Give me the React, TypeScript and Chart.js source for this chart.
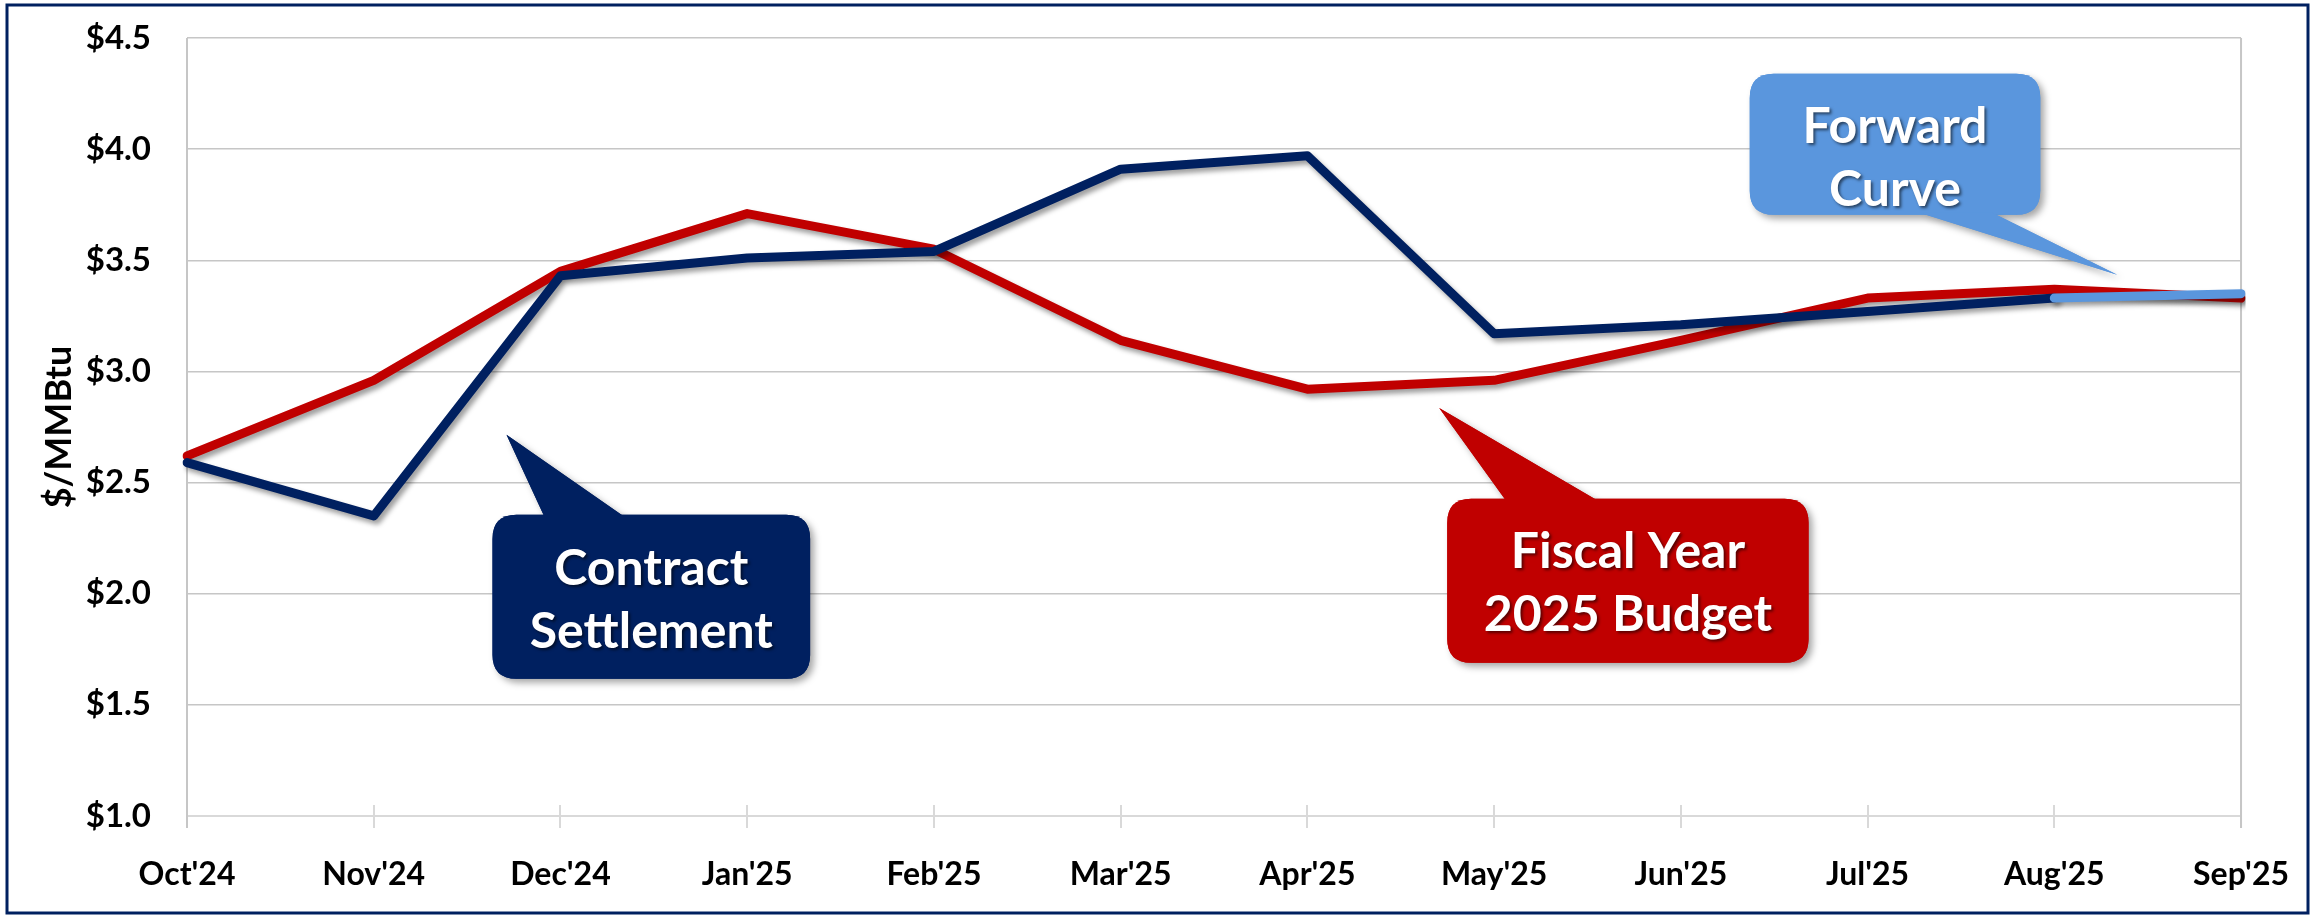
import React, { useEffect, useRef } from "react";
import { Chart, registerables } from "chart.js";

Chart.register(...registerables);

// ---------- data ----------
const categories = ["Oct'24", "Nov'24", "Dec'24", "Jan'25", "Feb'25", "Mar'25", "Apr'25", "May'25", "Jun'25", "Jul'25", "Aug'25", "Sep'25"];
const contractSettlement = [2.59, 2.35, 3.43, 3.51, 3.54, 3.91, 3.97, 3.17, 3.21, 3.27, 3.33, null];
const fiscalYearBudget = [2.62, 2.96, 3.45, 3.71, 3.55, 3.14, 2.92, 2.96, 3.14, 3.33, 3.37, 3.33];
const forwardCurve = [null, null, null, null, null, null, null, null, null, null, 3.33, 3.35];
const yMin = 1.0;
const yMax = 4.5;
const yStep = 0.5;
const yAxisTitle = "$/MMBtu";
const contractLabel = ["Contract", "Settlement"];
const budgetLabel = ["Fiscal Year", "2025 Budget"];
const forwardLabel = ["Forward", "Curve"];

// ---------- styles ----------
const NAVY = "#002060";
const RED = "#C00000";
const BLUE = "#5A96DD";
const FONT = "Lato, 'Open Sans', sans-serif";

// callouts anchored in data space: box [x0, yTop, x1, yBottom], pointer tip, pointer base x-range, text centre y
const callouts = [
  { lines: contractLabel, color: NAVY, box: [1.636, 2.355, 3.337, 1.617], tip: [1.711, 2.715], base: [1.914, 2.342], textY: 1.979 },
  { lines: budgetLabel, color: RED, box: [6.749, 2.427, 8.684, 1.689], tip: [6.706, 2.836], base: [7.064, 7.556], textY: 2.055 },
  { lines: forwardLabel, color: BLUE, box: [8.369, 4.339, 9.925, 3.705], tip: [10.337, 3.435], base: [9.278, 9.668], textY: 3.968 },
];

function roundRectPath(ctx: CanvasRenderingContext2D, x: number, y: number, w: number, h: number, r: number) {
  ctx.beginPath();
  ctx.moveTo(x + r, y);
  ctx.lineTo(x + w - r, y);
  ctx.quadraticCurveTo(x + w, y, x + w, y + r);
  ctx.lineTo(x + w, y + h - r);
  ctx.quadraticCurveTo(x + w, y + h, x + w - r, y + h);
  ctx.lineTo(x + r, y + h);
  ctx.quadraticCurveTo(x, y + h, x, y + h - r);
  ctx.lineTo(x, y + r);
  ctx.quadraticCurveTo(x, y, x + r, y);
  ctx.closePath();
}

const framePlugin = {
  id: "frame",
  beforeDatasetsDraw(chart: any) {
    const { ctx, chartArea, scales } = chart;
    const x = scales.x;
    ctx.save();
    ctx.strokeStyle = "#d9d9d9";
    ctx.lineWidth = 2;
    for (let i = 0; i < categories.length; i++) {
      const px = Math.round(x.getPixelForTick(i));
      ctx.beginPath();
      ctx.moveTo(px, chartArea.bottom - 11);
      ctx.lineTo(px, chartArea.bottom + 12);
      ctx.stroke();
    }
    ctx.strokeStyle = "#c6c6c6";
    ctx.lineWidth = 2;
    ctx.beginPath();
    ctx.moveTo(chartArea.left, chartArea.top);
    ctx.lineTo(chartArea.left, chartArea.bottom + 12);
    ctx.moveTo(chartArea.right, chartArea.top);
    ctx.lineTo(chartArea.right, chartArea.bottom + 12);
    ctx.stroke();
    ctx.restore();
  },
  beforeDatasetDraw(chart: any) {
    const ctx = chart.ctx;
    ctx.save();
    ctx.shadowColor = "rgba(0,0,0,0.38)";
    ctx.shadowBlur = 5;
    ctx.shadowOffsetX = 3;
    ctx.shadowOffsetY = 4;
  },
  afterDatasetDraw(chart: any) {
    chart.ctx.restore();
  },
  afterDraw(chart: any) {
    const { ctx, scales } = chart;
    const sx = (v: number) => scales.x.getPixelForValue(v);
    const sy = (v: number) => scales.y.getPixelForValue(v);
    ctx.save();
    for (const c of callouts) {
      const x0 = sx(c.box[0]);
      const x1 = sx(c.box[2]);
      const y0 = sy(c.box[1]);
      const y1 = sy(c.box[3]);
      const tx = sx(c.tip[0]);
      const ty = sy(c.tip[1]);
      const b0 = sx(c.base[0]);
      const b1 = sx(c.base[1]);
      const baseY = ty < y0 ? y0 + 2 : y1 - 2;
      const shape = () => {
        roundRectPath(ctx, x0, y0, x1 - x0, y1 - y0, 24);
        ctx.fill();
        ctx.beginPath();
        ctx.moveTo(b0, baseY);
        ctx.lineTo(tx, ty);
        ctx.lineTo(b1, baseY);
        ctx.closePath();
        ctx.fill();
      };
      ctx.save();
      ctx.shadowColor = "rgba(0,0,0,0.35)";
      ctx.shadowBlur = 7;
      ctx.shadowOffsetX = 4;
      ctx.shadowOffsetY = 4;
      ctx.fillStyle = c.color;
      shape();
      ctx.restore();
      ctx.fillStyle = c.color;
      shape();
      const fs = 50;
      ctx.save();
      ctx.font = `bold ${fs}px ${FONT}`;
      ctx.textAlign = "center";
      ctx.textBaseline = "alphabetic";
      ctx.shadowColor = "rgba(0,0,0,0.55)";
      ctx.shadowBlur = 3;
      ctx.shadowOffsetX = 2;
      ctx.shadowOffsetY = 2;
      ctx.fillStyle = "#ffffff";
      const cx = (x0 + x1) / 2;
      const cy = sy(c.textY);
      const gap = 63;
      c.lines.forEach((line, i) => {
        const lineCenter = cy + (i - (c.lines.length - 1) / 2) * gap;
        ctx.fillText(line, cx, lineCenter + fs * 0.36);
      });
      ctx.restore();
    }
    ctx.strokeStyle = NAVY;
    ctx.lineWidth = 3;
    ctx.strokeRect(7, 5, 2301, 908);
    ctx.restore();
  },
};

export default function App() {
  const canvasRef = useRef<HTMLCanvasElement | null>(null);

  useEffect(() => {
    const canvas = canvasRef.current;
    if (!canvas) return;
    const chart = new Chart(canvas, {
      type: "line",
      data: {
        labels: categories,
        datasets: [
          { label: "Forward Curve", data: forwardCurve, borderColor: BLUE, backgroundColor: BLUE },
          { label: "Contract Settlement", data: contractSettlement, borderColor: NAVY, backgroundColor: NAVY },
          { label: "Fiscal Year 2025 Budget", data: fiscalYearBudget, borderColor: RED, backgroundColor: RED },
        ].map((d) => ({
          ...d,
          borderWidth: 9,
          pointRadius: 0,
          pointHoverRadius: 0,
          tension: 0,
          fill: false,
          borderJoinStyle: "round" as const,
          borderCapStyle: "round" as const,
          spanGaps: false,
        })),
      },
      options: {
        responsive: false,
        animation: false,
        devicePixelRatio: 1,
        layout: { padding: { left: 0, top: 38, right: 78, bottom: 0 } },
        plugins: { legend: { display: false }, tooltip: { enabled: false } },
        scales: {
          x: {
            type: "category",
            offset: false,
            grid: { display: false },
            border: { display: false },
            ticks: {
              color: "#000000",
              font: { family: FONT, size: 32, weight: "bold" },
              padding: 31,
              maxRotation: 0,
              autoSkip: false,
            },
            afterFit: (scale: any) => {
              scale.height = 102;
            },
          },
          y: {
            min: yMin,
            max: yMax,
            grid: {
              drawTicks: false,
              color: (ctx: any) => (ctx.tick && ctx.tick.value === yMin ? "#d9d9d9" : "#c6c6c6"),
              lineWidth: (ctx: any) => (ctx.tick && ctx.tick.value === yMin ? 2 : 1.5),
            },
            border: { display: false },
            ticks: {
              stepSize: yStep,
              color: "#000000",
              font: { family: FONT, size: 33, weight: "bold" },
              padding: 36,
              callback: (v: any) => "$" + Number(v).toFixed(1),
            },
            title: {
              display: true,
              text: yAxisTitle,
              color: "#000000",
              font: { family: FONT, size: 36, weight: "bold" },
              padding: { top: 38, bottom: 0 },
            },
            afterFit: (scale: any) => {
              scale.width = 187;
              scale.paddingTop = 0;
              scale.paddingBottom = 0;
            },
          },
        },
      },
      plugins: [framePlugin],
    });
    return () => chart.destroy();
  }, []);

  return (
    <div style={{ position: "absolute", left: 0, top: 0, width: 2320, height: 918, background: "#ffffff" }}>
      <canvas ref={canvasRef} width={2320} height={918} style={{ display: "block" }} />
    </div>
  );
}
